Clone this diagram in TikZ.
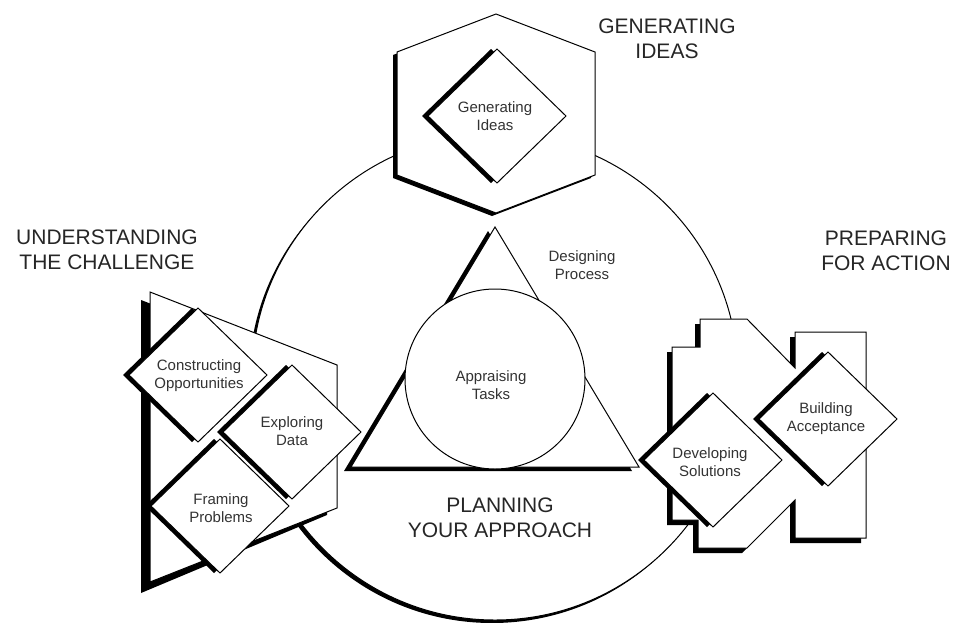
\documentclass[tikz,border=0pt]{standalone}
\usepackage{fontspec}
\setmainfont{Liberation Sans}
\newcommand\MyDiamond[2]{%
  \fill[black] (#1-6-69,#2) -- (#1-6,#2-67) -- (#1-6+69,#2) -- (#1-6,#2+67) -- cycle;
  \draw[outl] (#1-69,#2) -- (#1,#2-67) -- (#1+69,#2) -- (#1,#2+67) -- cycle;}
\begin{document}
\begin{tikzpicture}[x=1pt,y=-1pt,line join=miter,
  outl/.style={draw=black,line width=1pt,fill=white},
  head/.style={font=\fontsize{21}{25}\selectfont,align=center,text=black!85,inner sep=0pt},
  lbl/.style={font=\fontsize{15}{18}\selectfont,align=center,text=black!80,inner sep=0pt}]
\useasboundingbox[fill=white] (0,0) rectangle (953,622);
% big circle
\fill[black] (492,380) circle[radius=243];
\draw[outl] (495,377) circle[radius=243];
% triangle and inner circle
\fill[black] (488,231) -- (344,471) -- (632,471) -- cycle;
\draw[outl] (495,227) -- (351,467) -- (639,467) -- cycle;
\draw[outl] (495,379) circle[radius=90];
% hexagon
\fill[black] (492,17) -- (393,55) -- (393,178) -- (492,216) -- (591,178) -- (591,55) -- cycle;
\draw[outl] (496,14) -- (397,52) -- (397,175) -- (496,213) -- (595,175) -- (595,52) -- cycle;
\MyDiamond{497}{116}
% left group
\fill[black] (141,300) -- (327,372) -- (327,515) -- (141,593) -- cycle;
\draw[outl] (150,292) -- (337,365) -- (337,508) -- (150,582) -- cycle;
\MyDiamond{198}{375}
\MyDiamond{292}{432}
\MyDiamond{220}{506}
% right group
\begin{scope}[shift={(-5,5)}]
\fill[black] (700,319) -- (747,319) -- (795,368) -- (795,332) -- (866,332) -- (866,538) -- (795,538) -- (795,500) -- (747,548) -- (698,548) -- (698,520) -- (672,520) -- (672,347) -- (700,347) -- cycle;
\end{scope}
\draw[outl] (700,319) -- (747,319) -- (795,368) -- (795,332) -- (866,332) -- (866,538) -- (795,538) -- (795,500) -- (747,548) -- (698,548) -- (698,520) -- (672,520) -- (672,347) -- (700,347) -- cycle;
\MyDiamond{713}{460}
\MyDiamond{828}{419}
% labels
\node[lbl] (gi) at (495,116) {Generating\\Ideas};
\node[lbl] (co) at (199,376) {Constructing\\Opportunities};
\node[lbl] (ed) at (292,431) {Exploring\\Data};
\node[lbl] (fp) at (221,508) {Framing\\Problems};
\node[lbl] (ds) at (710,462) {Developing\\Solutions};
\node[lbl] (ba) at (826,419) {Building\\Acceptance};
\node[lbl] (dp) at (582,265) {Designing\\Process};
\node[lbl] (at) at (491,385) {Appraising\\Tasks};
% headings
\node[head] (h1) at (667,39) {GENERATING\\IDEAS};
\node[head] (h2) at (107,250) {UNDERSTANDING\\THE CHALLENGE};
\node[head] (h3) at (886,251) {PREPARING\\FOR ACTION};
\node[head] (h4) at (500,518) {PLANNING\\YOUR APPROACH};
\end{tikzpicture}
\end{document}
